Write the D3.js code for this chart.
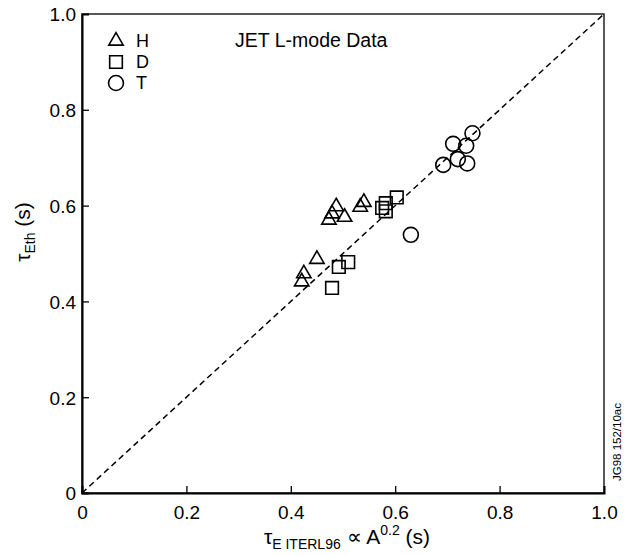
<!DOCTYPE html>
<html><head><meta charset="utf-8">
<script src="https://cdn.jsdelivr.net/npm/d3@7"></script>
<style>body{margin:0;background:#fff}svg{display:block}text{font-family:"Liberation Sans",Arial,sans-serif;fill:#000}</style>
</head><body><svg id="c" width="626" height="556"></svg>
<script>
const ticks = [0, 0.2, 0.4, 0.6, 0.8, 1.0];
const tickLabels = ["0", "0.2", "0.4", "0.6", "0.8", "1.0"];
const hData = [[0.421,0.441],[0.425,0.458],[0.450,0.488],[0.473,0.570],[0.479,0.583],[0.487,0.598],[0.503,0.576],[0.533,0.597],[0.540,0.607]];
const dData = [[0.479,0.428],[0.492,0.472],[0.510,0.482],[0.575,0.595],[0.582,0.605],[0.582,0.588],[0.603,0.617]];
const tData = [[0.630,0.539],[0.692,0.685],[0.711,0.729],[0.720,0.697],[0.736,0.725],[0.738,0.688],[0.748,0.751]];
const legendNames = ["H", "D", "T"];

const svg = d3.select("#c");
const L = 82, R = 604, T = 14, B = 493;
const x = d3.scaleLinear().domain([0,1]).range([L,R]);
const y = d3.scaleLinear().domain([0,1]).range([B,T]);

svg.append("rect").attr("x",L).attr("y",T).attr("width",R-L).attr("height",B-T)
  .attr("fill","none").attr("stroke","#000").attr("stroke-width",1.3);

const fmt = d => tickLabels[ticks.indexOf(d)];
const xa = svg.append("g").attr("transform",`translate(0,${B})`)
  .call(d3.axisBottom(x).tickValues(ticks).tickFormat(fmt).tickSize(-7).tickPadding(13));
const ya = svg.append("g").attr("transform",`translate(${L},0)`)
  .call(d3.axisLeft(y).tickValues(ticks).tickFormat(fmt).tickSize(-7).tickPadding(6));
[xa,ya].forEach(a=>{
  a.select(".domain").attr("stroke","#000").attr("stroke-width",2);
  a.selectAll(".tick line").attr("stroke","#000").attr("stroke-width",1.3);
  a.selectAll(".tick text").attr("font-size",19).attr("font-family",'"Liberation Sans",Arial,sans-serif').attr("fill","#000");
});
ya.selectAll(".tick text").attr("dy","0.36em");
xa.selectAll(".tick text").attr("dy","0.71em");
xa.selectAll(".tick").filter(d=>d===0||d===1).select("line").remove();
ya.selectAll(".tick").filter(d=>d===0||d===1).select("line").remove();

svg.append("line").attr("x1",x(0)).attr("y1",y(0)).attr("x2",x(1)).attr("y2",y(1))
  .attr("stroke","#000").attr("stroke-width",1.5).attr("stroke-dasharray","6,4");

const sym = {
  H: d3.symbol().type(d3.symbolTriangle).size(90),
  D: d3.symbol().type(d3.symbolSquare).size(160),
  T: d3.symbol().type(d3.symbolCircle).size(175)
};
function draw(data, key){
  svg.append("g").selectAll("path").data(data).join("path")
    .attr("d", sym[key]())
    .attr("transform", d=>`translate(${x(d[0])},${y(d[1])})`)
    .attr("fill","none").attr("stroke","#000").attr("stroke-width",1.6);
}
draw(hData,"H"); draw(dData,"D"); draw(tData,"T");

const lg = svg.append("g");
legendNames.forEach((n,i)=>{
  const cy = 41 + i*21;
  lg.append("path").attr("d", sym[n]()).attr("transform",`translate(116,${cy})`)
    .attr("fill","none").attr("stroke","#000").attr("stroke-width",1.6);
  lg.append("text").attr("x",136).attr("y",cy+6).attr("font-size",18).text(n);
});
svg.append("text").attr("x",235).attr("y",47).attr("font-size",19.5).text("JET L-mode Data");

const xl = svg.append("text").attr("x",347).attr("y",544).attr("text-anchor","middle").attr("font-size",21);
xl.append("tspan").text("τ");
xl.append("tspan").attr("font-size",14).attr("dy",5).text("E ITERL96");
xl.append("tspan").attr("dy",-5).text(" ∝ A");
xl.append("tspan").attr("font-size",14).attr("dy",-9).text("0.2");
xl.append("tspan").attr("dy",9).text(" (s)");

const yl = svg.append("text").attr("transform","translate(30,232) rotate(-90)").attr("text-anchor","middle").attr("font-size",21);
yl.append("tspan").text("τ");
yl.append("tspan").attr("font-size",14).attr("dy",5).text("Eth");
yl.append("tspan").attr("dy",-5).text(" (s)");

svg.append("text").attr("transform","translate(621,481) rotate(-90)").attr("font-size",10.5)
  .attr("textLength",78).attr("lengthAdjust","spacingAndGlyphs").text("JG98 152/10ac");
</script></body></html>
